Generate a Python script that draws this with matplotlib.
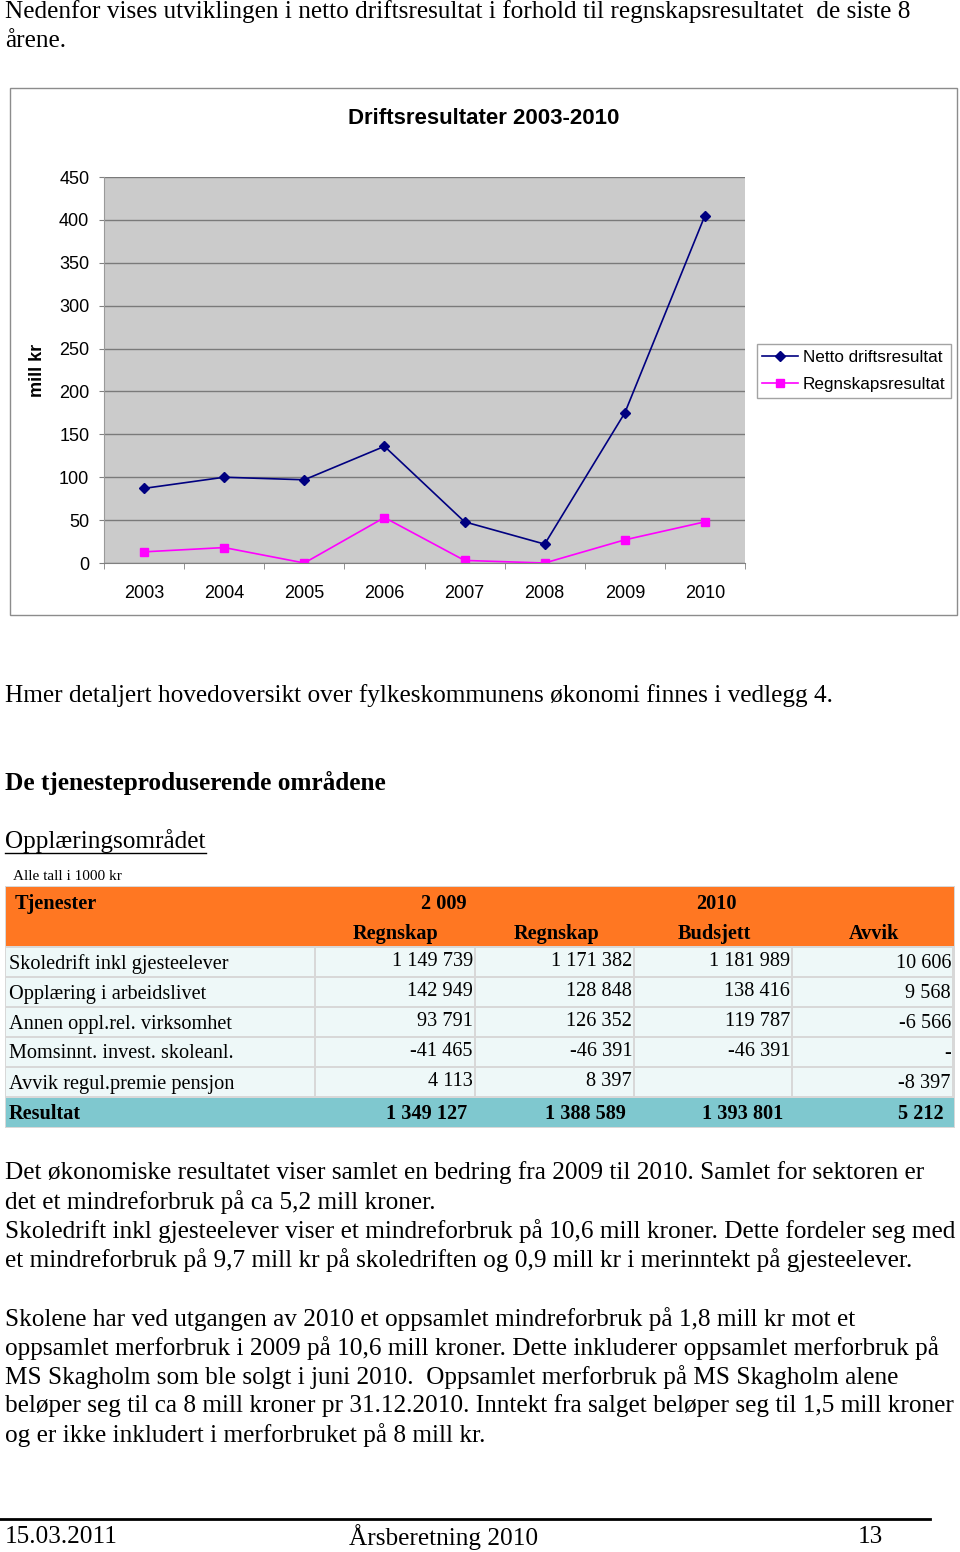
import matplotlib
matplotlib.use('Agg')
import matplotlib.pyplot as plt
from matplotlib.patches import Rectangle
from matplotlib.lines import Line2D

# chart data (mill kr)
years = ['2003', '2004', '2005', '2006', '2007', '2008', '2009', '2010']
netto = [87, 100, 97, 136, 48, 22, 175, 405]
regnskap = [13, 18, 0, 53, 3, 0, 27, 48]

# table data (1000 kr)
tjenester = ['Skoledrift inkl gjesteelever', 'Opplæring i arbeidslivet',
             'Annen oppl.rel. virksomhet', 'Momsinnt. invest. skoleanl.',
             'Avvik regul.premie pensjon']
regnskap_2009 = ['1 149 739', '142 949', '93 791', '-41 465', '4 113']
regnskap_2010 = ['1 171 382', '128 848', '126 352', '-46 391', '8 397']
budsjett_2010 = ['1 181 989', '138 416', '119 787', '-46 391', '']
avvik_2010 = ['10 606', '9 568', '-6 566', '-', '-8 397']
resultat = ['1 349 127', '1 388 589', '1 393 801', '5 212']

intro = ["Nedenfor vises utviklingen i netto driftsresultat i forhold til regnskapsresultatet  de siste 8",
         "årene."]
para1 = ["Det økonomiske resultatet viser samlet en bedring fra 2009 til 2010. Samlet for sektoren er",
         "det et mindreforbruk på ca 5,2 mill kroner.",
         "Skoledrift inkl gjesteelever viser et mindreforbruk på 10,6 mill kroner. Dette fordeler seg med",
         "et mindreforbruk på 9,7 mill kr på skoledriften og 0,9 mill kr i merinntekt på gjesteelever."]
para2 = ["Skolene har ved utgangen av 2010 et oppsamlet mindreforbruk på 1,8 mill kr mot et",
         "oppsamlet merforbruk i 2009 på 10,6 mill kroner. Dette inkluderer oppsamlet merforbruk på",
         "MS Skagholm som ble solgt i juni 2010.  Oppsamlet merforbruk på MS Skagholm alene",
         "beløper seg til ca 8 mill kroner pr 31.12.2010. Inntekt fra salget beløper seg til 1,5 mill kroner",
         "og er ikke inkludert i merforbruket på 8 mill kr."]

W, H = 960, 1552
SERIF = 'Liberation Serif'
SANS = 'Liberation Sans'
BODY = 18.2

fig = plt.figure(figsize=(W / 100, H / 100), dpi=100)
fig.patch.set_facecolor('white')

# page layer in pixel coordinates
page = fig.add_axes([0, 0, 1, 1])
page.set_xlim(0, W)
page.set_ylim(H, 0)
page.axis('off')


def line(x, y, s, **kw):
    kw.setdefault('fontsize', BODY)
    kw.setdefault('family', SERIF)
    kw.setdefault('va', 'center')
    page.text(x, y, s, **kw)


for i, s in enumerate(intro):
    line(5, 12 + 29 * i, s)

# chart frame
page.add_patch(Rectangle((10, 88), 947, 527, fill=False, ec='#8c8c8c', lw=1))
page.text(484, 119, 'Driftsresultater 2003-2010', fontsize=16, family=SANS,
          weight='bold', ha='center', va='center')
page.text(38, 370, 'mill kr', fontsize=13, family=SANS, weight='bold',
          rotation=90, ha='center', va='center')

ax = fig.add_axes([104 / W, 1 - 563 / H, 641 / W, 386 / H])
ax.set_facecolor('#cbcbcb')
x = range(len(years))
ax.plot(x, netto, color='#000080', marker='D', ms=5, lw=1.2, label='Netto driftsresultat')
ax.plot(x, regnskap, color='#ff00ff', marker='s', ms=5.5, lw=1.2, label='Regnskapsresultat')
ax.set_xlim(-0.5, len(years) - 0.5)
ax.set_ylim(0, 450)
ax.set_yticks(range(0, 451, 50))
ax.set_xticks(list(x))
ax.set_xticklabels(years)
ax.set_xticks([i - 0.5 for i in range(len(years) + 1)], minor=True)
ax.tick_params(axis='x', which='major', length=0, pad=16, labelsize=13)
ax.tick_params(axis='x', which='minor', length=4.3, color='#808080', direction='out')
ax.tick_params(axis='y', length=3.6, color='#808080', pad=7, labelsize=13)
for lab in ax.get_xticklabels() + ax.get_yticklabels():
    lab.set_family(SANS)
ax.grid(axis='y', color='#7a7a7a', lw=1)
ax.set_axisbelow(True)
for side in ['top', 'right']:
    ax.spines[side].set_visible(False)
ax.spines['left'].set_color('#9a9a9a')
ax.spines['bottom'].set_color('#808080')

leg = fig.legend(loc='center left', bbox_to_anchor=(757 / W, 1 - 371 / H),
                 prop={'family': SANS, 'size': 12.3}, frameon=True, fancybox=False,
                 handlelength=2.1, handletextpad=0.3, borderpad=0.3, labelspacing=0.75,
                 borderaxespad=0)
leg.get_frame().set_edgecolor('#8c8c8c')
leg.get_frame().set_linewidth(1)

line(5, 696, 'Hmer detaljert hovedoversikt over fylkeskommunens økonomi finnes i vedlegg 4.')
line(5, 783, 'De tjenesteproduserende områdene', weight='bold')
line(5, 841, 'Opplæringsområdet')
page.add_line(Line2D([5, 206], [853, 853], color='black', lw=1))
line(13, 876, 'Alle tall i 1000 kr', fontsize=11)

# table
tx0, tx1 = 5, 955
col_edges = [5, 315, 475, 634, 792, 953]
page.add_patch(Rectangle((tx0, 886), tx1 - tx0, 242, fc='#d8d8d8', ec='none'))
page.add_patch(Rectangle((tx0 + 1, 887), tx1 - tx0 - 2, 59, fc='#ff7722', ec='none'))
TS = 14.6
page.text(15, 904, 'Tjenester', fontsize=TS, family=SERIF, weight='bold', va='center')
page.text(444, 904, '2 009', fontsize=TS, family=SERIF, weight='bold', va='center', ha='center')
page.text(716, 904, '2010', fontsize=TS, family=SERIF, weight='bold', va='center', ha='center')
for cx, s in zip([396, 557, 714, 874], ['Regnskap', 'Regnskap', 'Budsjett', 'Avvik']):
    page.text(cx, 934, s, fontsize=TS, family=SERIF, weight='bold', va='center', ha='center')

cols = [regnskap_2009, regnskap_2010, budsjett_2010, avvik_2010]
for r, name in enumerate(tjenester):
    y0 = 948 + 30 * r
    for c in range(5):
        page.add_patch(Rectangle((col_edges[c] + 1, y0), col_edges[c + 1] - col_edges[c] - 2, 28,
                                 fc='#eef8f8', ec='none'))
    page.text(9, y0 + 16, name, fontsize=TS, family=SERIF, va='center')
    for c, vals in enumerate(cols):
        dy = 16 if c == 3 else 13
        page.text(col_edges[c + 2] - 2, y0 + dy, vals[r], fontsize=TS, family=SERIF,
                  va='center', ha='right')

page.add_patch(Rectangle((tx0 + 1, 1098), tx1 - tx0 - 2, 29, fc='#7fc8cf', ec='none'))
page.text(9, 1114, 'Resultat', fontsize=TS, family=SERIF, weight='bold', va='center')
for xr, s in zip([467, 626, 783, 944], resultat):
    page.text(xr, 1114, s, fontsize=TS, family=SERIF, weight='bold', va='center', ha='right')

for i, s in enumerate(para1):
    line(5, 1173 + 29 * i, s)
for i, s in enumerate(para2):
    line(5, 1319 + 29 * i, s)

# footer
page.add_line(Line2D([0, 930], [1519, 1519], color='black', lw=2))
line(5, 1537, '15.03.2011')
line(444, 1537, 'Årsberetning 2010', ha='center')
line(883, 1537, '13', ha='right')

fig.savefig('out.png', dpi=100)
